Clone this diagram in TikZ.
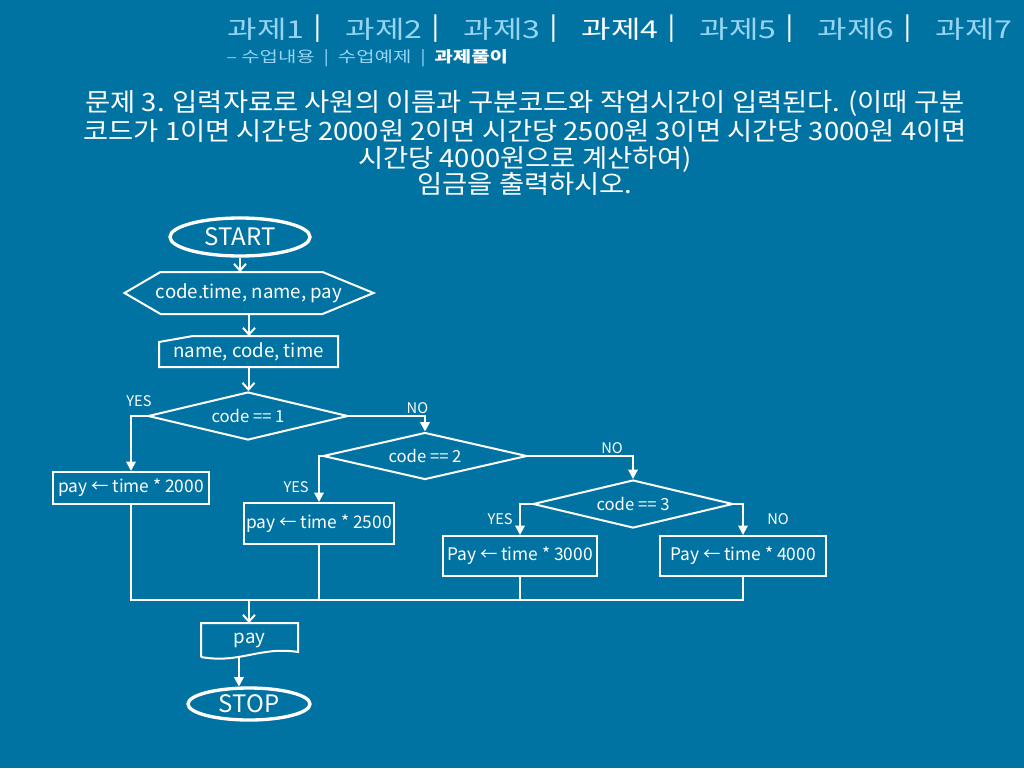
\documentclass[tikz,border=0pt]{standalone}
\usepackage{fontspec}
\setmainfont{Noto Sans CJK KR}
\newfontfamily\widefont[FakeStretch=1.3]{Noto Sans CJK KR}
\newfontfamily\taskfont[FakeStretch=1.08]{Noto Sans CJK KR}
\usetikzlibrary{arrows.meta,shapes.geometric}
\definecolor{slide}{RGB}{0,115,163}
\definecolor{tabtext}{RGB}{150,212,242}
\newcommand{\px}{0.75pt}
\newcommand{\fsz}[1]{\fontsize{#1}{#1}\selectfont}

\begin{document}
\begin{tikzpicture}[
      x=\px, y=-\px, %one unit is one pixel of the slide
      link/.style={white, line width=1.5pt},
      open/.style={link, -{Straight Barb[length=5pt,width=9pt]}},
      branch/.style={link, -{Triangle[length=7pt,width=7pt]}},
      term/.style={ellipse, draw=white, line width=2.5pt, text=white, inner sep=0pt, font=\fsz{18}},
      blank/.style={rectangle, draw=none, inner sep=0pt, outer sep=0pt, text=white, font=\fsz{14}},
      proc/.style={rectangle, draw=white, line width=1.5pt, text=white, inner sep=0pt, font=\fsz{13}},
      dec/.style={diamond, aspect=4, draw=white, line width=1.5pt, text=white, inner sep=0pt, font=\fsz{12.5}},
      yn/.style={text=white, inner sep=1pt, font=\fsz{11}},
      tab/.style={inner sep=0pt, font=\widefont\fsz{18.5}}
    ]
    %slide
    \fill[slide] (0,0) rectangle (1024,768);
    \useasboundingbox (0,0) rectangle (1024,768);
    %tabs
    \foreach \i/\c in {1/tabtext,2/tabtext,3/tabtext,4/white,5/tabtext,6/tabtext,7/tabtext}
      \node[tab, text=\c] (tab\i) at (266+118*\i-118, 29) {과제\i};
    \foreach \i in {1,...,6}
      \node[tab, text=white] (sep\i) at (318+118*\i-118, 29) {|};
    \node[tab, anchor=west, text=tabtext, font=\widefont\fsz{11.5}] (sub) at (226, 58)
      {–\ 수업내용\ \ |\ \ 수업예제\ \ |\ \ \textcolor{white}{\bfseries 과제풀이}};
    %problem
    \node[text=white, align=center, font=\taskfont\fsz{19}, inner sep=0pt] (task) at (525, 143) {%
      문제 3. 입력자료로 사원의 이름과 구분코드와 작업시간이 입력된다. (이때 구분\\[1pt]
      코드가 1이면 시간당 2000원 2이면 시간당 2500원 3이면 시간당 3000원 4이면\\[1pt]
      시간당 4000원으로 계산하여)\\[-1pt]
      임금을 출력하시오.};
    %flow
    \node[term, minimum width=140*\px, minimum height=38*\px] (start) at (240,237) {START};
    \node[blank, minimum width=249*\px, minimum height=42*\px] (prep) at (249,293) {code.time, name, pay};
    \draw[link] (prep.west) -- ([shift={(36,0)}]prep.north west) -- ([shift={(-51,0)}]prep.north east)
      -- (prep.east) -- ([shift={(-51,0)}]prep.south east) -- ([shift={(36,0)}]prep.south west) -- cycle;
    \node[blank, minimum width=179*\px, minimum height=31*\px] (input) at (248.5,351.5) {\raisebox{-3pt}{name, code, time}};
    \draw[link] (input.south west) -- ([shift={(0,6)}]input.north west) -- ([shift={(34,0)}]input.north west)
      -- (input.north east) -- (input.south east) -- cycle;
    \node[dec, minimum width=200*\px, minimum height=48*\px] (dec1) at (248,416) {code == 1};
    \node[dec, minimum width=204*\px, minimum height=47*\px] (dec2) at (425,456) {code == 2};
    \node[dec, minimum width=200*\px, minimum height=48*\px] (dec3) at (633,504) {code == 3};
    \node[proc, minimum width=156*\px, minimum height=32*\px] (pay1) at (131,488) {pay ← time * 2000};
    \node[proc, minimum width=150*\px, minimum height=41*\px] (pay2) at (319,523.5) {pay ← time * 2500};
    \node[proc, minimum width=154*\px, minimum height=40*\px] (pay3) at (520,556) {Pay ← time * 3000};
    \node[proc, minimum width=166*\px, minimum height=40*\px] (pay4) at (743,556) {Pay ← time * 4000};
    \coordinate (join) at (249,600);
    \node[blank, minimum width=97*\px, minimum height=34*\px] (out) at (249.5,640) {pay};
    \draw[link] (out.south west) -- (out.north west) -- (out.north east) -- ([shift={(0,-5)}]out.south east)
      .. controls ([shift={(-38,-11)}]out.south east) and ([shift={(39,7)}]out.south west) .. (out.south west);
    \node[term, minimum width=122*\px, minimum height=32*\px] (stop) at (249,704) {STOP};
    %connectors
    \draw[open] (start.south) -- (start.south |- prep.north);
    \draw[open] (prep.south) -- (prep.south |- input.north);
    \draw[open] (input.south) -- (input.south |- dec1.north);
    \draw[branch] (dec1.west) -| node[yn, pos=0.25, above, yshift=7*\px] {YES} (pay1.north);
    \draw[branch] (dec1.east) -| node[yn, pos=0.45, above] {NO} (dec2.north);
    \draw[branch] (dec2.west) -| node[yn, pos=0.84, left=8*\px] {YES} (pay2.north);
    \draw[branch] (dec2.east) -| node[yn, pos=0.4, above] {NO} (dec3.north);
    \draw[branch] (dec3.west) -| node[yn, pos=0.74, left=5*\px] {YES} (pay3.north);
    \draw[branch] (dec3.east) -| node[yn, pos=0.74, right=22*\px] {NO} (pay4.north);
    \foreach \b in {pay1,pay2,pay3,pay4}
      \draw[link] (\b.south) |- (join);
    \draw[open] (join) -- (join |- out.north);
    \draw[branch] (stop.120 |- out.south) -- (stop.120);
\end{tikzpicture}
\end{document}
